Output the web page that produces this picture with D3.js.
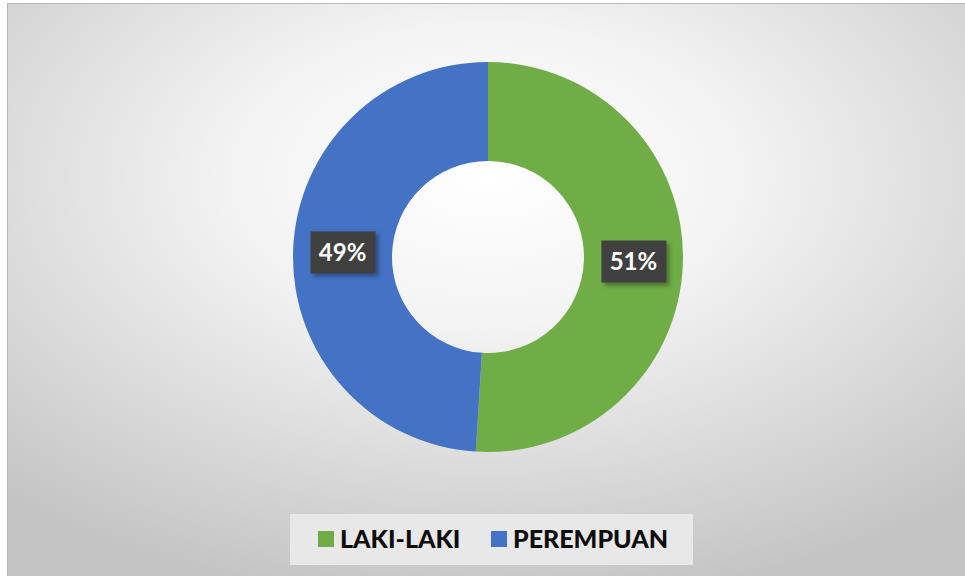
<!DOCTYPE html>
<html>
<head>
<meta charset="utf-8">
<script src="https://cdn.jsdelivr.net/npm/d3@7"></script>
<style>
  body { margin: 0; background: #fff; }
  svg { display: block; }
</style>
</head>
<body>
<div id="chart"></div>
<script>
const categories = ["LAKI-LAKI", "PEREMPUAN"];
const values = [51, 49];
const colors = ["#70AD47", "#4472C4"];

const width = 965, height = 576,
    frame = {x: 7, y: 3},
    cx = 488, cy = 257,
    outerR = 195, innerR = 96;

const svg = d3.select("#chart")
    .append("svg")
    .attr("width", width)
    .attr("height", height);

const defs = svg.append("defs");
const grad = defs.append("radialGradient")
    .attr("id", "bg")
    .attr("cx", "50%").attr("cy", "30%").attr("r", "75%");
grad.append("stop").attr("offset", "0%").attr("stop-color", "#ffffff");
grad.append("stop").attr("offset", "35%").attr("stop-color", "#f3f3f3");
grad.append("stop").attr("offset", "100%").attr("stop-color", "#c4c4c4");

const shadow = defs.append("filter").attr("id", "shadow")
    .attr("x", "-20%").attr("y", "-20%").attr("width", "150%").attr("height", "150%");
shadow.append("feDropShadow")
    .attr("dx", 3).attr("dy", 3).attr("stdDeviation", 2)
    .attr("flood-color", "#000").attr("flood-opacity", 0.35);

// chart area
svg.append("rect")
    .attr("x", frame.x + 0.5)
    .attr("y", frame.y + 0.5)
    .attr("width", width - frame.x)
    .attr("height", height - frame.y)
    .attr("fill", "url(#bg)")
    .attr("stroke", "#b8b8b8");

const pie = d3.pie().sort(null).value(d => d.value);
const arc = d3.arc().innerRadius(innerR).outerRadius(outerR);
const labelArc = d3.arc().innerRadius((innerR + outerR) / 2).outerRadius((innerR + outerR) / 2);

const data = categories.map((c, i) => ({name: c, value: values[i], color: colors[i]}));
const arcs = pie(data);

const g = svg.append("g").attr("transform", `translate(${cx},${cy})`);

g.selectAll("path")
    .data(arcs)
    .join("path")
    .attr("d", arc)
    .attr("fill", d => d.data.color);

// data labels
const total = d3.sum(values);
const labels = g.selectAll("g.label")
    .data(arcs)
    .join("g")
    .attr("class", "label")
    .attr("transform", d => `translate(${labelArc.centroid(d)})`);

labels.append("rect")
    .attr("x", -32).attr("y", -21)
    .attr("width", 65).attr("height", 42)
    .attr("fill", "#3f3f3f")
    .attr("filter", "url(#shadow)");

labels.append("text")
    .attr("text-anchor", "middle")
    .attr("dy", "0.36em")
    .attr("fill", "#fff")
    .style("font-family", "Lato, 'Open Sans', sans-serif")
    .style("font-weight", "bold")
    .style("font-size", "24px")
    .text(d => Math.round(d.data.value / total * 100) + "%");

// legend
const legend = svg.append("g");
legend.append("rect")
    .attr("x", 290).attr("y", 514)
    .attr("width", 403).attr("height", 51)
    .attr("fill", "#e8e8e8");

const legendX = d3.scaleOrdinal().domain(categories).range([318, 491]);

const items = legend.selectAll("g.item")
    .data(data)
    .join("g")
    .attr("class", "item")
    .attr("transform", d => `translate(${legendX(d.name)},531)`);

items.append("rect")
    .attr("width", 16).attr("height", 16)
    .attr("fill", d => d.color);

items.append("text")
    .attr("x", 22).attr("y", 8)
    .attr("dy", "0.36em")
    .attr("fill", "#0d0d0d")
    .style("font-family", "Lato, 'Open Sans', sans-serif")
    .style("font-weight", "900")
    .style("font-size", "25px")
    .text(d => d.name);
</script>
</body>
</html>
